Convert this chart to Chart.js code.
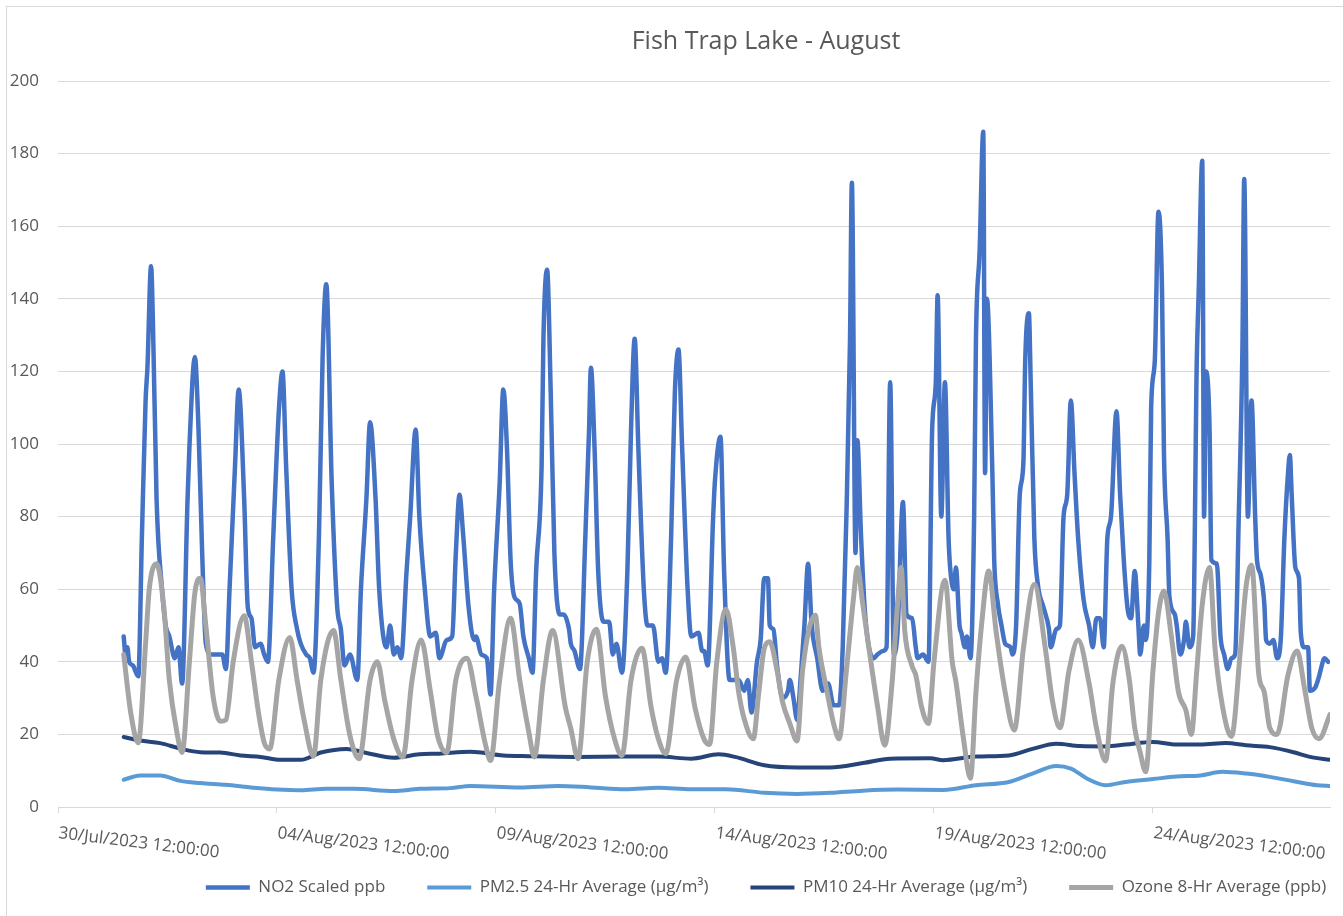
<!DOCTYPE html>
<html>
<head>
<meta charset="utf-8">
<title>Fish Trap Lake - August</title>
<script src="https://cdn.jsdelivr.net/npm/chart.js@4.4.0/dist/chart.umd.min.js"></script>
<style>
  html, body { margin: 0; padding: 0; background: #fff; overflow: hidden; }
  #frame { position: absolute; left: 6px; top: 6px; width: 1700px; height: 1100px;
           border-left: 1px solid #d9d9d9; border-top: 1px solid #d9d9d9; }
  #wrap { position: absolute; left: 0; top: 0; width: 1532px; height: 916px; }
</style>
</head>
<body>
<div id="frame"></div>
<div id="wrap"><canvas id="chart" width="1532" height="916"></canvas></div>
<script>
// x values are hours counted from 30/Jul/2023 12:00:00
var tickHours = [0, 120, 240, 360, 480, 600];
var tickLabels = ['30/Jul/2023 12:00:00', '04/Aug/2023 12:00:00', '09/Aug/2023 12:00:00',
                  '14/Aug/2023 12:00:00', '19/Aug/2023 12:00:00', '24/Aug/2023 12:00:00'];

var seriesNames = ['NO2 Scaled ppb', 'PM2.5 24-Hr Average (µg/m³)', 'PM10 24-Hr Average (µg/m³)', 'Ozone 8-Hr Average (ppb)'];

var no2Hours = [36,37,38,39,41,44,46,48,49,51,52,54,57,59,61,64,66,68,71,72,75,77,79,81,84,87,90,92,94,97,99,102,104,106,108,111,113,115,118,121,123,125,128,131,133,136,138,140,143,145,
  147,150,153,155,157,160,164,166,169,171,174,176,180,182,184,186,188,191,193,196,198,201,204,207,209,213,216,218,220,222,225,228,229,232,235,237,239,242,244,246,248,250,253,255,258,
  260,262,265,266,268,270,272,275,277,280,281,283,286,289,291,292,294,296,299,302,304,306,309,312,314,316,318,321,323,326,329,331,333,336,338,340,342,345,347,351,353,354,356,359,360,363,365,368,
  370,373,376,378,380,383,385,387,389,390,392,394,397,400,401,403,405,407,409,411,413,416,419,422,425,428,430,432,434,435,437,438,440,442,444,447,449,452,454,456,458,460,463,465,468,470,471,474,477,479,481,482,
  484,486,488,490,491,492,494,495,497,498,500,502,503,505,507,508,509,512,513,515,517,519,522,523,525,527,529,530,532,533,535,537,540,543,544,547,549,551,553,555,557,559,562,565,567,569,571,573,575,577,580,582,584,586,588,590,
  592,593,595,596,598,599,601,603,605,606,608,609,612,613,615,617,618,620,622,624,625,627,628,629,631,632,635,637,639,641,643,645,647,649,650,652,654,656,657,659,661,662,664,666,668,670,672,674,675,676,678,680,681,683,685,686,689,691,692,694,696];
var no2Ppb = [47,42,44,40,39,36,75,112,121,149,134,85,60,50,47,41,44,34,85,99,124,104,70,45,42,42,42,38,60,94,115,85,55,52,44,45,42,40,75,109,120,94,60,49,45,42,41,37,75,124,
  144,89,55,49,39,42,35,60,85,106,85,60,44,50,42,44,41,65,80,104,80,60,47,48,41,46,47,70,86,75,55,46,47,42,41,31,60,89,115,99,68,58,56,47,41,
  37,65,94,129,148,114,70,53,53,49,45,43,38,75,104,121,99,65,51,51,42,45,37,65,104,129,99,60,50,50,40,41,37,75,114,126,99,60,47,48,43,43,39,80,90,102,65,35,
  35,35,32,35,26,40,46,63,63,50,49,39,30,32,35,30,24,36,50,67,50,41,32,34,28,28,44,80,129,172,70,101,75,55,45,41,42,43,44,117,42,48,84,53,52,44,41,42,40,104,117,141,
  80,117,74,61,60,66,50,48,44,47,41,80,129,153,186,92,140,92,68,56,50,45,44,42,50,86,95,123,136,117,74,61,55,49,44,49,50,80,86,112,92,74,57,50,44,52,52,44,74,80,109,86,68,55,52,65,
  50,42,50,46,68,110,123,164,141,98,74,58,53,50,42,46,51,44,47,123,141,178,80,120,104,68,67,47,42,38,41,42,80,126,173,80,112,80,68,64,56,46,45,46,41,46,74,92,97,86,66,63,48,44,44,32,33,36,38,41,40];

var pm25Hours = [36,45,56,67,78,92,107,120,133,147,162,184,198,215,226,253,274,292,311,329,347,366,387,405,423,441,460,485,503,521,534,547,555,564,574,585,600,613,626,638,651,664,677,690,697];
var pm25Vals  = [7.5,8.7,8.7,7.2,6.6,6.1,5.3,4.8,4.6,5,5,4.4,5,5.2,5.8,5.4,5.8,5.4,4.9,5.3,4.9,4.9,3.9,3.6,3.9,4.5,4.8,4.7,6,6.9,9.2,11.3,10.6,7.8,6,6.9,7.7,8.4,8.7,9.7,9.2,8.3,7.1,6,5.8];

var pm10Hours = [36,45,56,67,78,89,100,111,122,133,144,158,169,184,198,209,226,244,258,283,311,329,347,362,371,387,405,423,441,456,478,485,503,521,534,547,560,574,585,600,613,626,640,651,664,677,686,697];
var pm10Vals  = [19.3,18.3,17.6,16.1,15.1,15,14.2,13.8,13,13,15,16,14.9,13.6,14.5,14.7,15.2,14.2,14,13.8,13.9,13.9,13.3,14.5,13.8,11.5,10.9,10.9,12.1,13.3,13.4,12.9,13.9,14.2,16,17.4,16.8,16.7,17.2,17.9,17.2,17.2,17.6,17,16.5,15.1,13.8,13];

var ozoneHours = [36,40,44,48,50,54,58,61,65,68,72,75,78,81,85,89,92,96,102,106,110,113,116,121,127,131,135,140,144,151,155,160,165,171,175,179,184,189,194,199,204,208,213,218,224,229,234,237,
  242,248,253,258,261,266,271,278,281,285,290,295,300,305,309,314,320,325,329,333,339,344,349,354,357,361,366,370,373,376,381,384,387,390,394,397,401,405,408,415,417,421,425,428,432,436,438,441,444,449,453,457,
  460,462,464,468,470,473,477,480,486,490,492,496,500,503,506,510,514,519,524,529,535,541,545,549,554,559,565,569,574,578,583,587,590,593,596,600,603,606,610,614,618,621,624,627,631,634,638,643,648,651,654,658,661,664,668,674,679,683,687,691,697];
var ozonePpb = [42,25.5,17.7,45,60,67,55,35,21,15,40,59,63,50,30.5,23.6,24,40,52.7,40,25.5,17.7,16,35,46.7,35,23.6,14,35,48.6,35,19.6,13.3,35,40,29.5,18.7,13.8,35,46,32,19.6,15,35,41,30.5,17.7,12.8,
  35,52,35,20.6,13.8,35,48.6,27.5,21.6,13.3,40,49,30.5,18.7,14.2,35,43.7,27.5,18.7,14.7,35,41.3,27.5,18.7,17.2,40,54.5,44,31.6,24.3,18.8,31.6,43.7,45.5,37.6,29,23,18.2,37.6,52.8,43.7,32.8,23,18.8,37.6,58,66,55.8,45,28,17,34,
  55.8,66,48.5,38.8,36.4,28,23,40,62.5,40,34.6,19.4,7.9,31.6,49.8,65,48.5,31.6,21.2,43.7,61.3,43.7,29,21.8,37.6,46,34,21.8,12.7,34,44.3,35.2,21.8,15,9.7,37.6,53.4,59.5,47.3,31.6,26.7,20,37.6,55.8,66,43.7,28,19.4,43.7,60.7,66.7,36.4,31.6,21.8,20,36.4,43,32.8,21.8,18.8,25.5];

function points(hours, vals) {
  return hours.map(function (h, i) { return { x: h, y: vals[i] }; });
}

var textColor = '#595959';
var gridColor = '#d9d9d9';
var fontName = 'Open Sans';

// x labels slant down to the right, starting at the tick, so they are drawn here
var slantedLabels = {
  id: 'slantedLabels',
  afterDraw: function (chart) {
    var xs = chart.scales.x;
    var c = chart.ctx;
    c.save();
    c.font = '17px "' + fontName + '"';
    c.fillStyle = textColor;
    c.textAlign = 'left';
    c.textBaseline = 'alphabetic';
    tickHours.forEach(function (h, i) {
      c.save();
      c.translate(xs.getPixelForValue(h), xs.top + 31);
      c.rotate(7 * Math.PI / 180);
      c.fillText(tickLabels[i], 0, 0);
      c.restore();
    });
    c.restore();
  }
};

var ctx = document.getElementById('chart').getContext('2d');
var fishChart = new Chart(ctx, {
  type: 'line',
  data: {
    datasets: [
      { label: seriesNames[0], data: points(no2Hours, no2Ppb), borderColor: '#4472c4', backgroundColor: '#4472c4', borderWidth: 4.5, order: 3 },
      { label: seriesNames[1], data: points(pm25Hours, pm25Vals), borderColor: '#5b9bd5', backgroundColor: '#5b9bd5', borderWidth: 4, order: 2 },
      { label: seriesNames[2], data: points(pm10Hours, pm10Vals), borderColor: '#264478', backgroundColor: '#264478', borderWidth: 4, order: 1 },
      { label: seriesNames[3], data: points(ozoneHours, ozonePpb), borderColor: '#a5a5a5', backgroundColor: '#a5a5a5', borderWidth: 5, order: 0 }
    ]
  },
  options: {
    responsive: false,
    animation: false,
    devicePixelRatio: 1,
    elements: {
      point: { radius: 0 },
      line: { cubicInterpolationMode: 'monotone', borderJoinStyle: 'round', borderCapStyle: 'round' }
    },
    layout: { padding: { top: 0, left: 0, right: 0, bottom: 10 } },
    plugins: {
      title: {
        display: true, text: 'Fish Trap Lake - August', color: textColor,
        font: { family: fontName, size: 25, weight: 'normal' },
        padding: { top: 27, bottom: 24 }
      },
      tooltip: { enabled: false },
      legend: {
        position: 'bottom',
        labels: {
          usePointStyle: true, pointStyle: 'line', pointStyleWidth: 44, padding: 42,
          color: textColor, font: { family: fontName, size: 17 },
          sort: function (a, b) { return a.datasetIndex - b.datasetIndex; }
        }
      }
    },
    scales: {
      x: {
        type: 'linear', min: 0, max: 697,
        afterBuildTicks: function (s) { s.ticks = tickHours.map(function (h) { return { value: h }; }); },
        afterFit: function (s) { s.height = 30; },
        ticks: { display: false },
        grid: { drawOnChartArea: false, drawTicks: true, tickLength: 6, color: gridColor },
        border: { color: gridColor }
      },
      y: {
        min: 0, max: 200,
        afterFit: function (s) { s.width = 58; },
        ticks: { stepSize: 20, padding: 19, color: textColor, font: { family: fontName, size: 17 } },
        grid: { color: gridColor, drawTicks: false },
        border: { display: false }
      },
      yRight: {
        type: 'linear', position: 'right', display: true,
        afterFit: function (s) { s.width = 202; },
        ticks: { display: false },
        grid: { display: false },
        border: { display: false }
      }
    }
  },
  plugins: [slantedLabels]
});
</script>
</body>
</html>
